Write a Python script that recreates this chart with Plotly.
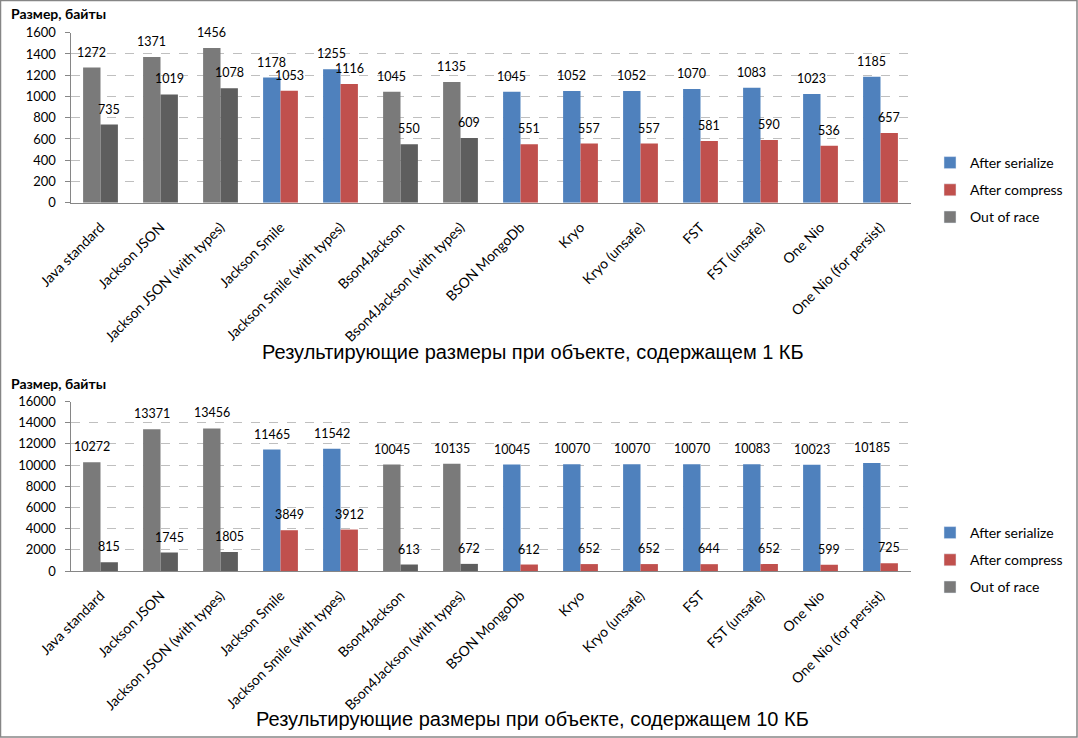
import plotly.graph_objects as go

categories = ["Java standard", "Jackson JSON", "Jackson JSON (with types)", "Jackson Smile",
              "Jackson Smile (with types)", "Bson4Jackson", "Bson4Jackson (with types)",
              "BSON MongoDb", "Kryo", "Kryo (unsafe)", "FST", "FST (unsafe)", "One Nio",
              "One Nio (for persist)"]
out_of_race = [True, True, True, False, False, True, True, False, False, False, False, False, False, False]

serialize_1kb = [1272, 1371, 1456, 1178, 1255, 1045, 1135, 1045, 1052, 1052, 1070, 1083, 1023, 1185]
compress_1kb = [735, 1019, 1078, 1053, 1116, 550, 609, 551, 557, 557, 581, 590, 536, 657]
serialize_10kb = [10272, 13371, 13456, 11465, 11542, 10045, 10135, 10045, 10070, 10070, 10070, 10083, 10023, 10185]
compress_10kb = [815, 1745, 1805, 3849, 3912, 613, 672, 612, 652, 652, 644, 652, 599, 725]

titles = ["Результирующие размеры при объекте, содержащем 1 КБ",
          "Результирующие размеры при объекте, содержащем 10 КБ"]
y_title = "Размер, байты"
legend_names = ["After serialize", "After compress", "Out of race"]

BLUE = "#4F81BD"
RED = "#C0504D"
GREY1 = "#7A7A7A"
GREY2 = "#5E5E5E"
FONT = "Lato"

W, H = 1078, 738

def px_x(p):
    return p / W

def px_y(p):
    return 1 - p / H

fig = go.Figure()

panels = [
    dict(ser=serialize_1kb, comp=compress_1kb, top=32.7, zero=202.7, ymax=1600, dtick=200,
         xa="x", ya="y", xaxis="xaxis", yaxis="yaxis", legend="legend",
         title=titles[0], title_y=352, ylab_y=14, leg_y=147),
    dict(ser=serialize_10kb, comp=compress_10kb, top=401.5, zero=571, ymax=16000, dtick=2000,
         xa="x2", ya="y2", xaxis="xaxis2", yaxis="yaxis2", legend="legend2",
         title=titles[1], title_y=719, ylab_y=383, leg_y=517),
]

BW = 0.29
annotations = []
for i, p in enumerate(panels):
    ser_colors = [GREY1 if o else BLUE for o in out_of_race]
    comp_colors = [GREY2 if o else RED for o in out_of_race]
    fig.add_trace(go.Bar(x=categories, y=p["ser"], marker=dict(color=ser_colors, line=dict(width=0)),
                         width=BW, offset=-BW, xaxis=p["xa"], yaxis=p["ya"], showlegend=False,
                         hoverinfo="x+y"))
    fig.add_trace(go.Bar(x=categories, y=p["comp"], marker=dict(color=comp_colors, line=dict(width=0)),
                         width=BW, offset=0, xaxis=p["xa"], yaxis=p["ya"], showlegend=False,
                         hoverinfo="x+y"))
    for j, (name, col) in enumerate(zip(legend_names, [BLUE, RED, GREY1])):
        fig.add_trace(go.Bar(x=[None], y=[None], name=name, marker_color=col,
                             legendgroup=f"g{i}{j}",
                             xaxis=p["xa"], yaxis=p["ya"], legend=p["legend"], showlegend=True))
    for c, s, k in zip(categories, p["ser"], p["comp"]):
        annotations.append(dict(x=c, y=s, xref=p["xa"], yref=p["ya"], text=str(s), showarrow=False,
                                xshift=-8.7, yshift=6, yanchor="bottom",
                                font=dict(family=FONT, size=12.5, color="#000000")))
        annotations.append(dict(x=c, y=k, xref=p["xa"], yref=p["ya"], text=str(k), showarrow=False,
                                xshift=8.7, yshift=6, yanchor="bottom",
                                font=dict(family=FONT, size=12.5, color="#000000")))
    annotations.append(dict(x=px_x(532.5), y=px_y(p["title_y"]), xref="paper", yref="paper",
                            text=p["title"], showarrow=False, xanchor="center", yanchor="middle",
                            font=dict(family="Liberation Sans, Arial", size=20, color="#000000")))
    annotations.append(dict(x=px_x(9), y=px_y(p["ylab_y"]), xref="paper", yref="paper",
                            text="<b>" + y_title + "</b>", showarrow=False, xanchor="left",
                            yanchor="middle", font=dict(family=FONT, size=14, color="#000000")))

    fig.layout[p["xaxis"]] = dict(domain=[px_x(70.5), px_x(910.5)], anchor=p["ya"],
                                  type="category", tickangle=-45, showgrid=False,
                                  showline=True, linecolor="#868686", linewidth=1,
                                  ticks="", ticklabelstandoff=10,
                                  tickfont=dict(family=FONT, size=14, color="#000000"),
                                  automargin=False, fixedrange=True)
    fig.layout[p["yaxis"]] = dict(domain=[px_y(p["zero"]), px_y(p["top"])], anchor=p["xa"],
                                  range=[0, p["ymax"]], dtick=p["dtick"], tick0=0, tickformat="d",
                                  showgrid=True, gridcolor="#BFBFBF", griddash="dash", gridwidth=1,
                                  showline=True, linecolor="#868686", linewidth=1,
                                  ticks="outside", ticklen=5, tickcolor="#868686",
                                  ticklabelstandoff=6, zeroline=False,
                                  tickfont=dict(family=FONT, size=13, color="#000000"),
                                  automargin=False, fixedrange=True)
    fig.layout[p["legend"]] = dict(x=px_x(930), y=px_y(p["leg_y"]), xanchor="left", yanchor="top",
                                   xref="paper", yref="paper", bgcolor="rgba(0,0,0,0)",
                                   font=dict(family=FONT, size=14, color="#000000"),
                                   itemwidth=30, tracegroupgap=6, traceorder="grouped")

fig.update_layout(
    width=W, height=H, margin=dict(l=0, r=0, t=0, b=0, autoexpand=False),
    paper_bgcolor="white", plot_bgcolor="white",
    barmode="overlay", annotations=annotations,
    shapes=[dict(type="rect", xref="paper", yref="paper", x0=px_x(0.5), x1=px_x(1077),
                 y0=px_y(737), y1=px_y(0.5), line=dict(color="#868686", width=1.5))],
)

fig.write_html("out.html", config={"displayModeBar": False},
               post_script="document.body.style.margin='0';document.body.style.overflow='hidden';")
